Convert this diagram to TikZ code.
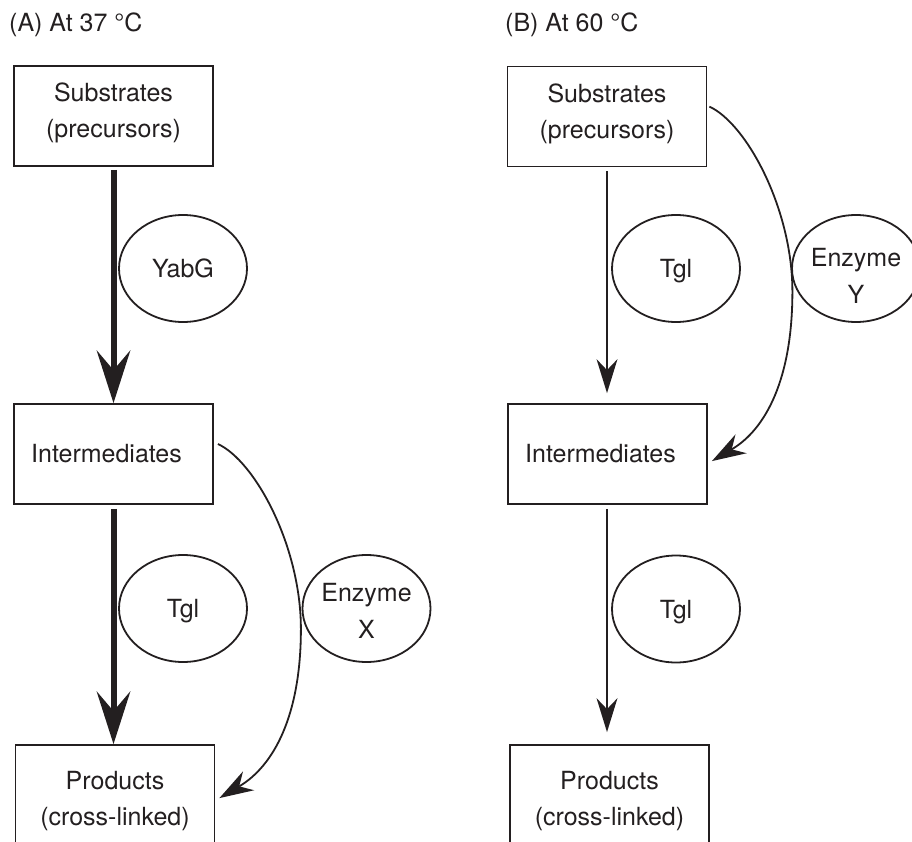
\documentclass[tikz,border=0pt]{standalone}
\usepackage{fontspec}
\setmainfont{TeX Gyre Heros}
\usetikzlibrary{arrows.meta,shapes.geometric,calc}
\definecolor{ink}{HTML}{231F20}
\begin{document}
\begin{tikzpicture}[x=1pt,y=-1pt,
  every node/.style={text=ink, font=\fontsize{25}{36}\selectfont},
  box/.style={draw=ink, line width=1.8pt, rectangle, minimum width=199pt, minimum height=100pt, inner sep=0pt, align=center},
  enz/.style={draw=ink, line width=1.8pt, ellipse, minimum width=128pt, minimum height=107pt, inner sep=0pt, align=center},
  heavyarrow/.style={draw=ink, line width=6pt, -{Stealth[length=53pt,width=34pt,inset=20pt,line width=0pt]}},
  thinarrow/.style={draw=ink, line width=1.8pt, -{Stealth[length=34pt,width=21pt,inset=11pt,line width=0pt]}},
  curvearrow/.style={draw=ink, line width=1.8pt, -{Stealth[length=34pt,width=22pt,inset=11pt,line width=0pt]}},
  ttl/.style={anchor=base west, inner sep=0pt}
]
\useasboundingbox (0,0) rectangle (912,842);
\clip (0,0) rectangle (912,842);

% titles
\node[ttl] (ttlA) at (9,32) {(A) At 37 °C};
\node[ttl] (ttlB) at (505,32) {(B) At 60 °C};

% panel A
\node[box] (subA) at (113.5,116) {Substrates\\(precursors)\rule[-11pt]{0pt}{0pt}};
\node[box] (intA) at (113.5,454) {Intermediates\hspace{14pt}};
\node[box, minimum height=120pt] (prodA) at (115,805) {Products\\(cross-linked)\rule[-13pt]{0pt}{0pt}};
\node[enz] (yabg) at (183,268.5) {YabG};
\node[enz, text depth=0pt] (tglA) at (183,608.5) {Tgl};
\node[enz, font=\fontsize{25}{37}\selectfont] (enzX) at (366.5,608.5) {\rule{0pt}{22pt}Enzyme\\X};

\draw[heavyarrow, shorten <=3pt] (subA.south) -- (intA.north);
\draw[heavyarrow, shorten <=4pt] (intA.south) -- (intA.south |- prodA.north);
\coordinate (cA0) at ($(intA.east)+(4,-10)$);
\coordinate (cA1) at ($(prodA.north east)+(4,54)$);
\draw[curvearrow] (cA0) .. controls ($(cA0)+(37,17)$) and ($(cA0)+(83,102)$) .. ($(cA0)+(83,185)$)
  .. controls ($(cA0)+(83,272)$) and ($(cA1)+(54,-32)$) .. (cA1);

% panel B
\node[box] (subB) at (607,116.5) {Substrates\\(precursors)\rule[-11pt]{0pt}{0pt}};
\node[box] (intB) at (607.5,454) {Intermediates\hspace{14pt}};
\node[box, minimum height=120pt] (prodB) at (609.5,805) {Products\\(cross-linked)\rule[-13pt]{0pt}{0pt}};
\node[enz, text depth=0pt] (tglB1) at (676,268.5) {Tgl};
\node[enz, font=\fontsize{25}{37}\selectfont] (enzY) at (856,268.5) {\rule{0pt}{32pt}Enzyme\\Y};
\node[enz, text depth=0pt] (tglB2) at (676,609) {Tgl};

\draw[thinarrow, shorten <=4pt, shorten >=10pt] (subB.south) -- (subB.south |- intB.north);
\draw[thinarrow, shorten <=4pt, shorten >=12pt] (subB.south |- intB.south) -- (subB.south |- prodB.north);
\coordinate (cB0) at ($(subB.north east)+(2,41)$);
\coordinate (cB1) at ($(intB.north east)+(4,58)$);
\draw[curvearrow] (cB0) .. controls ($(cB0)+(37,17)$) and ($(cB0)+(83,102)$) .. ($(cB0)+(83,185)$)
  .. controls ($(cB0)+(83,272)$) and ($(cB1)+(54,-32)$) .. (cB1);
\end{tikzpicture}
\end{document}
